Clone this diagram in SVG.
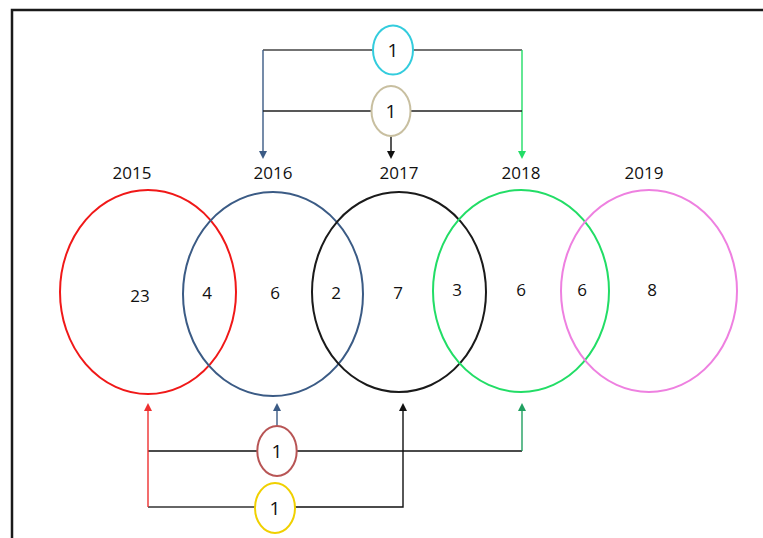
<svg xmlns="http://www.w3.org/2000/svg" width="763" height="538" viewBox="0 0 763 538">
<style>
text{font-family:"Open Sans","Liberation Sans",Arial,sans-serif;font-size:17px;fill:#111;text-anchor:middle}
.one{font-size:19px}
.big{fill:none;stroke-width:2}
.small{fill:#fff;stroke-width:2}
.ln{fill:none;stroke-width:1.4}
</style>
<rect width="763" height="538" fill="#fff"/>
<path d="M12,538 V10 H763" fill="none" stroke="#1a1a1a" stroke-width="2.5"/>

<g id="connectors">
<path class="ln" d="M373,50 H263" stroke="#444"/>
<path class="ln" d="M263,50 V152" stroke="#3b5b85"/>
<polygon points="259,151 267,151 263,159" fill="#3b5b85"/>
<path class="ln" d="M413,50 H522" stroke="#444"/>
<path class="ln" d="M522,50 V152" stroke="#22dd66"/>
<polygon points="518,151 526,151 522,159" fill="#22dd66"/>
<path class="ln" d="M371,111 H263 M411,111 H522" stroke="#222"/>
<path class="ln" d="M391,136 V152" stroke="#111"/>
<polygon points="387,151 395,151 391,159" fill="#111"/>
<path class="ln" d="M257,451 H148 M297,451 H522" stroke="#111"/>
<path class="ln" d="M522,451 V410" stroke="#20a060"/>
<polygon points="518,411 526,411 522,403" fill="#20a060"/>
<path class="ln" d="M277,426 V410" stroke="#3b5b85"/>
<polygon points="273,411 281,411 277,403" fill="#3b5b85"/>
<path class="ln" d="M255,507 H148" stroke="#333"/>
<path class="ln" d="M148,507 V410" stroke="#ee3030"/>
<polygon points="144,411 152,411 148,403" fill="#ee3030"/>
<path class="ln" d="M295,507 H403 V410" stroke="#111"/>
<polygon points="399,411 407,411 403,403" fill="#111"/>
</g>

<g id="set2015">
<ellipse class="big" cx="148" cy="292" rx="88" ry="102" stroke="#f01818"/>
<text x="132" y="179">2015</text>
</g>
<g id="set2016">
<ellipse class="big" cx="273" cy="294" rx="90" ry="102" stroke="#3b5b85"/>
<text x="273" y="179">2016</text>
</g>
<g id="set2017">
<ellipse class="big" cx="399" cy="292" rx="87" ry="100" stroke="#1a1a1a"/>
<text x="399" y="179">2017</text>
</g>
<g id="set2018">
<ellipse class="big" cx="521" cy="291" rx="88" ry="101" stroke="#22dd66"/>
<text x="521" y="179">2018</text>
</g>
<g id="set2019">
<ellipse class="big" cx="649" cy="291" rx="88" ry="101" stroke="#ee80e0"/>
<text x="644" y="179">2019</text>
</g>

<g id="counts">
<text x="140" y="302">23</text>
<text x="207" y="299">4</text>
<text x="275" y="299">6</text>
<text x="336" y="299">2</text>
<text x="398" y="299">7</text>
<text x="457" y="296">3</text>
<text x="521" y="296">6</text>
<text x="582" y="296">6</text>
<text x="652" y="296">8</text>
</g>

<g id="nodeCyan">
<ellipse class="small" cx="393" cy="50" rx="20" ry="24.5" stroke="#33ccdd"/>
<text class="one" x="393" y="57">1</text>
</g>
<g id="nodeBeige">
<ellipse class="small" cx="391" cy="111" rx="19.5" ry="25" stroke="#c8bfa0"/>
<text class="one" x="391" y="118">1</text>
</g>
<g id="nodeBrown">
<ellipse class="small" cx="277" cy="451" rx="19.7" ry="25" stroke="#b85555"/>
<text class="one" x="277" y="458">1</text>
</g>
<g id="nodeYellow">
<ellipse class="small" cx="275" cy="508" rx="20" ry="25" stroke="#f0d000"/>
<text class="one" x="275" y="515">1</text>
</g>
</svg>
